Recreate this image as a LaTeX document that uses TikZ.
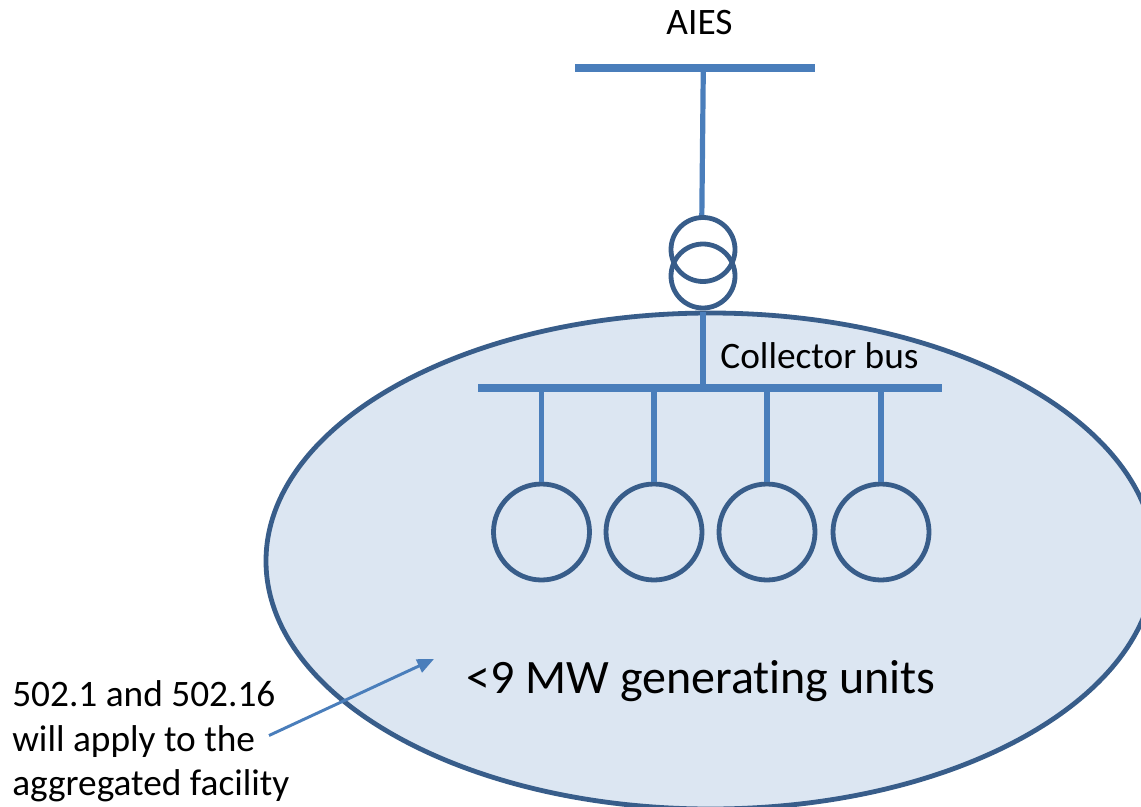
\documentclass[tikz,border=0pt]{standalone}
\usepackage{fontspec}
\setmainfont[RawFeature=-liga]{Carlito}
\usetikzlibrary{arrows.meta}
\definecolor{busblue}{HTML}{4A7EBB}
\definecolor{edgeblue}{HTML}{385D8A}
\definecolor{fillblue}{HTML}{DCE6F2}
\tikzset{
  px/.style={x=0.75pt,y=-0.75pt},
  bus/.style={draw=busblue,line width=6pt},
  wire/.style={draw=busblue,line width=3.9pt},
  ring/.style={circle,draw=edgeblue,line width=3.6pt,minimum size=72pt,inner sep=0pt},
  tring/.style={circle,draw=edgeblue,line width=3.6pt,minimum size=48pt,inner sep=0pt},
  lbl/.style={inner sep=0pt,text=black,anchor=base},
  small/.style={font=\fontsize{28pt}{33pt}\selectfont}
}
\begin{document}
\begin{tikzpicture}[px]
\useasboundingbox (0,0) rectangle (1141,806);
\clip (0,0) rectangle (1141,806);
\path[fill=fillblue,draw=edgeblue,line width=3.6pt] (710.5,561) ellipse [x radius=444.5,y radius=248];
\coordinate (topA) at (703.3,68);
\coordinate (topB) at (701.8,217);
\coordinate (busT) at (703,312);
\coordinate (busB) at (703,387);
\draw[bus] (575,68) -- (815,68);
\draw[wire] (topA) -- (topB);
\node[tring] (t1) at (703,249.5) {};
\node[tring] (t2) at (703,276) {};
\draw[wire] (busT) -- (busB);
\draw[bus] (478,388) -- (942,388);
\node[ring] (g1) at (541.5,532) {};
\node[ring] (g2) at (654,532) {};
\node[ring] (g3) at (767,532) {};
\node[ring] (g4) at (881,532) {};
\draw[wire] (541.5,388) -- (g1);
\draw[wire] (654,388) -- (g2);
\draw[wire] (767,388) -- (g3);
\draw[wire] (881,388) -- (g4);
\node[lbl,small] (aies) at (699.5,35) {AIES};
\node[lbl,small] (cb) at (819.5,368) {Collector bus};
\node[lbl,font=\fontsize{36pt}{42pt}\selectfont] (mw) at (701,693) {<9 MW generating units};
\node[lbl,small,anchor=base west] (l1) at (12,706.5) {502.1 and 502.16};
\node[lbl,small,anchor=base west] (l2) at (12,751) {will apply to the};
\node[lbl,small,anchor=base west] (l3) at (12,795) {aggregated facility};
\coordinate (a0) at (269,735.5);
\coordinate (a1) at (434,659);
\draw[draw=busblue,line width=2.2pt,-{Triangle[length=12.5pt,width=10.5pt]}] (a0) -- (a1);
\end{tikzpicture}
\end{document}
